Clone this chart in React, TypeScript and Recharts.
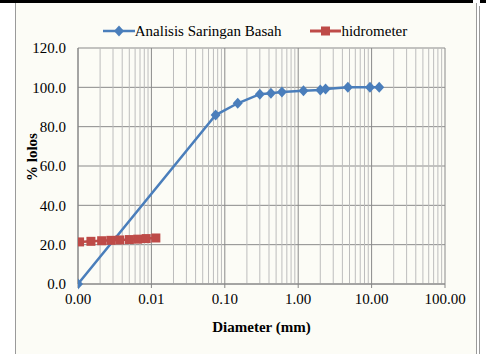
import React from "react";
import {
  LineChart,
  Line,
  XAxis,
  YAxis,
  CartesianGrid,
  ReferenceLine,
  Legend,
} from "recharts";

// Analisis saringan basah (sieve), diameter in mm vs % lolos
const sieveDiameter = [0.001, 0.075, 0.15, 0.3, 0.425, 0.6, 1.18, 2.0, 2.36, 4.75, 9.5, 12.7];
const sievePassing = [0, 85.9, 91.9, 96.5, 97.0, 97.6, 98.3, 98.6, 99.1, 100, 100, 100];

// hidrometer
const hydroDiameter = [0.00105, 0.0015, 0.0021, 0.0028, 0.0037, 0.005, 0.0065, 0.0085, 0.0115];
const hydroPassing = [21.4, 21.7, 22.0, 22.2, 22.4, 22.6, 22.8, 23.1, 23.4];

const xTicks = [0.001, 0.01, 0.1, 1, 10, 100];
const yTicks = [0, 20, 40, 60, 80, 100, 120];

const BLUE = "#4a7ebb";
const RED = "#be4b48";
const FONT = "'Liberation Serif', 'Times New Roman', serif";
const FS = 15;

const sieveData = sieveDiameter.map((d, i) => ({ d, pct: sievePassing[i] }));
const hydroData = hydroDiameter.map((d, i) => ({ d, pct: hydroPassing[i] }));

// minor log gridlines 2..9 in each decade
const minorTicks: number[] = [];
xTicks.slice(0, -1).forEach((dec) => {
  for (let k = 2; k <= 9; k++) minorTicks.push(+(dec * k).toPrecision(3));
});

const Diamond = (props: any) => {
  const { cx, cy, index } = props;
  if (cx == null || cy == null) return null;
  return (
    <polygon
      key={`dia-${index}`}
      points={`${cx},${cy - 5.5} ${cx + 5},${cy} ${cx},${cy + 5.5} ${cx - 5},${cy}`}
      fill={BLUE}
    />
  );
};

const Square = (props: any) => {
  const { cx, cy, index } = props;
  if (cx == null || cy == null) return null;
  return <rect key={`sq-${index}`} x={cx - 4.5} y={cy - 4.5} width={9} height={9} fill={RED} />;
};

const LegendContent = () => (
  <div
    style={{
      display: "flex",
      justifyContent: "center",
      alignItems: "center",
      height: 18,
      fontFamily: FONT,
      fontSize: FS,
      color: "#000",
      paddingLeft: 50,
    }}
  >
    <svg width={32} height={12}>
      <line x1={0} y1={6} x2={32} y2={6} stroke={BLUE} strokeWidth={2.5} />
      <polygon points="16,0.5 21,6 16,11.5 11,6" fill={BLUE} />
    </svg>
    <span style={{ marginRight: 29 }}>Analisis Saringan Basah</span>
    <svg width={31} height={12}>
      <line x1={0} y1={6} x2={31} y2={6} stroke={RED} strokeWidth={3} />
      <rect x={11} y={1.5} width={9} height={9} fill={RED} />
    </svg>
    <span>hidrometer</span>
  </div>
);

export default function App() {
  return (
    <div
      style={{
        position: "absolute",
        left: 0,
        top: 0,
        width: 486,
        height: 354,
        background: "#ffffff",
        overflow: "hidden",
      }}
    >
      <div style={{ position: "absolute", left: 0, top: 0, width: 473, height: 3, background: "#000" }} />
      <div style={{ position: "absolute", left: 480, top: 0, width: 6, height: 3, background: "#000" }} />
      <div
        style={{
          position: "absolute",
          left: 15,
          top: 3,
          width: 460,
          height: 360,
          borderLeft: "1px solid #9a9a9a",
          borderRight: "1px solid #9a9a9a",
          background: "#fcfcf6",
        }}
      />
      <div style={{ position: "absolute", left: 479, top: 6, width: 1, height: 360, background: "#9a9a9a" }} />
      <div style={{ position: "absolute", left: 0, top: 0 }}>
        <LineChart width={486} height={354} margin={{ top: 30, right: 41, bottom: 20, left: 15 }}>
          <CartesianGrid stroke="#8a8a8a" strokeWidth={1} />
          {minorTicks.map((v) => (
            <ReferenceLine key={v} x={v} stroke="#bdbdbd" strokeWidth={1} />
          ))}
          <XAxis
            dataKey="d"
            type="number"
            scale="log"
            domain={[0.001, 100]}
            ticks={xTicks}
            allowDataOverflow
            tickFormatter={(v: number) => v.toFixed(2)}
            tick={{ fill: "#000", fontSize: FS, fontFamily: FONT }}
            stroke="#868686"
            tickSize={4}
            tickMargin={5}
            height={50}
            label={{
              value: "Diameter (mm)",
              position: "insideBottom",
              offset: 2,
              style: { fill: "#000", fontSize: FS, fontWeight: "bold", fontFamily: FONT },
            }}
          />
          <YAxis
            type="number"
            domain={[0, 120]}
            ticks={yTicks}
            tickFormatter={(v: number) => v.toFixed(1)}
            tick={{ fill: "#000", fontSize: FS, fontFamily: FONT }}
            stroke="#868686"
            tickLine={false}
            tickSize={0}
            tickMargin={12}
            width={63}
            label={{
              content: (p: any) => {
                const vb = p.viewBox || {};
                const x = vb.x + 17;
                const y = vb.y + vb.height / 2 - 9;
                return (
                  <text
                    x={x}
                    y={y}
                    transform={`rotate(-90, ${x}, ${y})`}
                    textAnchor="middle"
                    dominantBaseline="central"
                    style={{ fill: "#000", fontSize: FS, fontWeight: "bold", fontFamily: FONT }}
                  >
                    % lolos
                  </text>
                );
              },
            }}
          />
          <Legend verticalAlign="top" content={<LegendContent />} wrapperStyle={{ top: 22 }} />
          <Line
            data={sieveData}
            dataKey="pct"
            name="Analisis Saringan Basah"
            stroke={BLUE}
            strokeWidth={2.5}
            dot={<Diamond />}
            isAnimationActive={false}
          />
          <Line
            data={hydroData}
            dataKey="pct"
            name="hidrometer"
            stroke={RED}
            strokeWidth={2.5}
            dot={<Square />}
            isAnimationActive={false}
          />
        </LineChart>
      </div>
    </div>
  );
}
